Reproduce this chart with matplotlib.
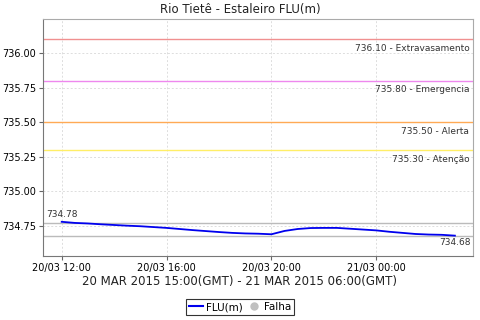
import matplotlib
matplotlib.use('Agg')
import matplotlib.pyplot as plt
import numpy as np
from matplotlib.lines import Line2D

# hours after 20/03 12:00, every 30 minutes
hours = np.arange(0, 15.5, 0.5)
level = [734.780, 734.772, 734.768, 734.762, 734.757, 734.752, 734.748, 734.742,
         734.736, 734.728, 734.720, 734.713, 734.706, 734.700, 734.696, 734.694,
         734.690, 734.714, 734.728, 734.735, 734.736, 734.736, 734.730, 734.724,
         734.718, 734.708, 734.700, 734.692, 734.688, 734.686, 734.680]

tick_hours = [0, 4, 8, 12]
tick_labels = ['20/03 12:00', '20/03 16:00', '20/03 20:00', '21/03 00:00']

limits = [736.10, 735.80, 735.50, 735.30]
limit_names = ['Extravasamento', 'Emergencia', 'Alerta', 'Atenção']
limit_colors = ['#f09090', '#ee88ee', '#ffaa55', '#ffee66']

# gray reference lines near the data
ref_lines = [734.77, 734.68]

fig = plt.figure(figsize=(4.8, 3.2), dpi=100)
ax = fig.add_axes([43 / 480, 64 / 320, 430 / 480, 237 / 320])

ax.grid(True, color='#dddddd', linestyle=(0, (2, 2)), linewidth=0.7)
ax.set_axisbelow(True)

for val, name, col in zip(limits, limit_names, limit_colors):
    ax.axhline(val, color=col, linewidth=1.0)
    ax.text(15.55, val - 0.035, '%.2f - %s' % (val, name), ha='right', va='top',
            fontsize=6.5, color='#333333')

for val in ref_lines:
    ax.axhline(val, color='#bbbbbb', linewidth=1.0)

ax.plot(hours, level, color='#0000ee', linewidth=1.3)
ax.text(hours[0], 734.80, '%.2f' % round(level[0], 2), ha='center', va='bottom',
        fontsize=6.5, color='#333333')
ax.text(hours[-1], 734.66, '%.2f' % round(level[-1], 2), ha='center', va='top',
        fontsize=6.5, color='#333333')

ax.set_xlim(-0.714, 15.69)
ax.set_ylim(734.533, 736.245)
ax.set_xticks(tick_hours)
ax.set_xticklabels(tick_labels, fontsize=7)
ax.set_yticks([734.75, 735.00, 735.25, 735.50, 735.75, 736.00])
ax.set_yticklabels(['%.2f' % v for v in ax.get_yticks()], fontsize=7)
ax.tick_params(length=3, color='#666666', pad=2)

for s in ['top', 'right']:
    ax.spines[s].set_color('#aaaaaa')
for s in ['left', 'bottom']:
    ax.spines[s].set_color('#777777')

fig.text(0.5, 1 - 9 / 320, 'Rio Tietê - Estaleiro FLU(m)', ha='center', va='center',
         fontsize=8.5, color='#222222')
fig.text(0.5, 1 - 282 / 320, '20 MAR 2015 15:00(GMT) - 21 MAR 2015 06:00(GMT)',
         ha='center', va='center', fontsize=8.5, color='#222222')

handles = [Line2D([], [], color='#0000ee', linewidth=1.5, label='FLU(m)'),
           Line2D([], [], color='#c0c0c0', marker='o', linestyle='none',
                  markersize=5, label='Falha')]
leg = fig.legend(handles=handles, loc='center', bbox_to_anchor=(0.5, 1 - 307 / 320),
                 ncol=2, fontsize=7.5, frameon=True, fancybox=False,
                 handlelength=1.4, handletextpad=0.3, columnspacing=0.3,
                 borderpad=0.3)
leg.get_frame().set_edgecolor('#000000')
leg.get_frame().set_linewidth(0.8)

fig.savefig('out.png', dpi=100)
